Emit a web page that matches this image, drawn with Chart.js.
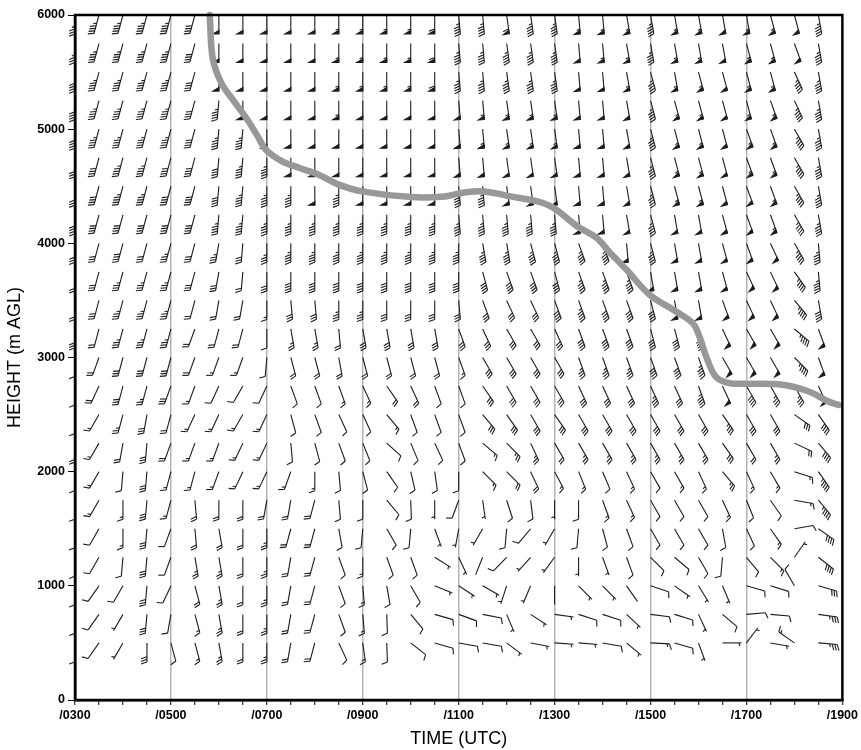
<!DOCTYPE html>
<html>
<head>
<meta charset="utf-8">
<script src="https://cdn.jsdelivr.net/npm/chart.js@4.4.1/dist/chart.umd.min.js"></script>
<style>
html,body{margin:0;padding:0;background:#fff;}
#wrap{width:861px;height:750px;position:relative;}
</style>
</head>
<body>
<div id="wrap"><canvas id="c" width="861" height="750"></canvas></div>
<script>
// ---- data ----
// barb columns (hours UTC) and levels (m AGL)
const times = [3,3.5,4,4.5,5,5.5,6,6.5,7,7.5,8,8.5,9,9.5,10,10.5,11,11.5,12,12.5,13,13.5,14,14.5,15,15.5,16,16.5,17,17.5,18,18.5];
const heights = [500,750,1000,1250,1500,1750,2000,2250,2500,2750,3000,3250,3500,3750,4000,4250,4500,4750,5000,5250,5500,5750,6000];

// wind direction (deg, from) per level, one token per time column ("-" = missing)
const windDirRows = [
"180 215 210 180 165 165 170 180 180 190 195 155 172 178 128 106 100 100 127 101 94 95 100 130 93 106 160 90 37 100 305 95",
"180 215 210 185 190 165 170 180 180 190 195 160 175 178 140 106 110 101 157 123 98 108 108 133 97 107 155 130 85 95 - 98",
"180 215 210 185 205 165 170 180 180 190 195 160 175 170 150 112 123 120 198 203 180 135 135 145 108 125 148 157 106 107 330 106",
"180 210 185 185 200 170 170 180 180 190 195 160 180 160 160 122 155 202 224 222 216 180 160 160 135 130 150 185 140 135 35 128",
"180 210 180 185 200 175 170 180 180 195 195 170 185 150 185 160 190 210 185 220 210 185 165 160 150 150 150 170 155 145 80 125",
"180 210 180 185 195 175 180 180 190 190 195 175 180 140 178 180 200 172 162 173 180 180 160 155 150 150 150 155 158 145 100 140",
"180 210 185 185 195 195 200 205 205 200 180 175 165 145 167 172 180 135 135 155 152 158 157 155 150 150 155 140 155 150 108 145",
"180 210 190 185 200 200 200 205 205 175 165 160 158 132 157 155 160 130 135 155 150 150 150 150 150 150 150 145 150 150 115 140",
"180 210 195 190 195 205 205 210 205 165 160 155 155 140 160 160 160 140 145 150 145 150 150 150 150 150 150 145 150 150 125 145",
"180 205 195 195 200 200 205 210 205 160 160 160 155 145 155 160 160 145 150 150 150 155 155 155 155 155 160 155 150 150 150 155",
"180 200 195 195 195 200 200 200 185 165 165 170 165 165 165 165 160 150 150 150 150 160 160 160 160 160 160 150 150 150 135 160",
"180 195 195 195 195 200 195 195 180 170 170 175 170 170 170 170 160 155 150 150 155 160 160 160 165 165 165 155 150 150 130 160",
"180 195 195 195 195 195 190 190 180 175 175 180 180 180 180 180 175 160 155 155 160 160 160 160 165 170 170 160 155 155 140 170",
"180 195 195 195 195 195 190 185 180 180 180 180 180 180 180 180 180 165 160 160 165 160 160 160 170 170 170 165 155 155 145 175",
"180 195 195 195 195 195 190 185 180 180 180 180 180 180 180 180 180 170 170 165 165 160 160 175 165 170 170 165 160 155 150 175",
"180 195 195 195 195 195 185 185 180 180 180 180 180 180 180 180 175 175 175 175 175 175 175 170 165 170 170 165 160 160 150 170",
"180 195 195 195 195 195 185 185 180 180 180 180 180 180 180 180 175 175 172 172 172 175 175 170 165 165 165 165 160 160 150 170",
"180 195 195 195 195 195 185 185 180 180 180 180 180 180 180 180 175 175 172 172 172 175 175 170 165 165 165 165 160 160 150 170",
"180 195 195 195 195 195 185 185 180 180 180 180 180 180 180 180 175 175 172 172 172 175 175 170 165 165 165 165 160 160 150 170",
"180 195 195 195 195 195 185 180 180 180 180 180 180 180 180 180 175 175 172 172 172 175 175 170 165 165 165 165 165 160 155 170",
"180 195 195 195 195 195 180 180 180 180 180 180 180 180 180 180 175 175 172 172 172 175 175 170 165 170 165 165 165 165 155 170",
"180 195 195 195 195 195 180 180 180 180 180 180 180 180 180 180 175 175 172 172 172 175 175 170 170 170 170 170 165 165 160 170",
"180 195 195 195 195 195 180 180 180 180 180 180 180 180 180 180 175 175 172 172 172 175 175 170 170 170 170 170 170 165 165 170"
];

// wind speed (kt) per level, one token per time column
const windSpdRows = [
"10 10 5 30 10 15 25 20 25 20 20 10 15 10 10 10 10 10 5 5 5 5 10 5 15 10 5 5 5 5 15 35",
"10 10 5 30 10 15 25 20 25 20 20 10 15 10 10 10 10 10 5 5 5 10 10 5 10 10 5 10 10 10 - 35",
"10 10 10 30 10 20 25 20 25 20 20 10 15 10 10 5 5 5 5 5 2 5 5 2 10 5 5 5 10 10 10 30",
"10 10 10 30 10 25 25 20 25 20 20 10 15 10 10 5 5 2 10 5 5 5 5 10 10 10 10 10 10 15 5 40",
"10 10 15 30 10 20 20 20 25 20 20 10 10 10 10 5 5 5 10 10 5 10 10 10 10 10 10 10 10 15 10 40",
"10 15 15 30 15 20 20 20 20 20 20 10 10 10 10 5 10 5 10 10 5 10 15 15 10 10 10 15 10 10 15 45",
"10 15 10 30 15 15 15 15 15 15 15 10 10 10 10 10 10 15 20 20 15 15 10 15 10 15 15 25 15 15 15 45",
"20 15 20 30 20 15 15 15 15 10 10 10 10 10 10 10 10 15 25 25 20 25 25 25 25 25 25 30 20 25 20 40",
"10 15 25 30 20 15 15 15 15 10 10 10 10 15 10 10 10 30 30 30 30 30 30 30 30 30 30 35 30 30 30 40",
"10 20 30 25 30 15 10 10 10 10 10 15 15 20 20 10 10 30 30 30 30 30 30 30 35 30 45 50 40 35 35 50",
"10 20 30 30 30 20 15 15 10 20 20 20 20 20 20 20 15 30 30 30 30 35 35 35 40 40 45 50 50 50 45 50",
"30 20 35 35 35 20 20 20 10 25 25 20 30 30 30 30 30 30 30 30 30 40 40 40 40 40 40 50 50 50 45 50",
"20 30 35 35 35 20 20 20 15 30 30 35 35 30 30 30 30 30 30 30 40 45 40 40 40 50 50 50 50 50 45 40",
"20 30 35 35 35 30 30 20 30 40 40 40 40 40 40 40 40 40 40 40 40 45 45 45 50 50 50 50 50 50 45 45",
"30 30 40 30 35 30 35 30 35 45 45 45 45 45 45 45 45 45 45 45 45 45 45 50 45 50 50 50 50 50 45 45",
"40 40 40 40 40 40 45 45 45 45 45 45 45 45 45 45 45 45 45 45 45 50 50 50 45 50 50 50 50 55 45 45",
"30 40 45 45 40 40 40 45 45 45 50 45 50 50 50 50 45 45 50 50 50 50 50 50 45 55 55 50 50 55 45 45",
"30 40 45 45 40 40 40 45 45 50 50 50 50 50 50 50 50 50 50 50 50 50 50 50 45 55 55 50 55 55 45 45",
"40 45 45 45 45 40 45 45 50 50 50 50 50 50 50 50 50 55 55 55 55 50 50 50 45 55 55 50 55 55 45 45",
"40 45 45 45 45 40 45 50 50 50 50 55 50 50 50 50 50 55 55 55 55 50 50 50 45 55 55 50 55 55 45 45",
"40 45 45 45 45 40 50 50 50 50 50 55 55 55 55 60 45 45 45 45 45 50 50 55 45 55 55 50 55 55 45 45",
"35 45 45 45 45 40 50 50 50 50 50 55 55 55 55 60 45 45 45 45 45 50 55 55 45 55 55 50 55 55 50 45",
"35 45 45 45 45 40 50 50 50 50 50 55 55 55 55 60 45 45 60 45 45 55 55 55 45 55 55 50 55 55 50 45"
];

// thick gray line (time UTC, height m AGL)
const lineTime = [5.81,5.87,6.05,6.29,6.57,6.81,6.98,7.32,7.67,8.08,8.50,8.98,10.01,10.71,11.12,11.53,12.08,12.64,12.98,13.47,13.88,14.16,14.50,14.98,15.53,15.88,16.02,16.16,16.36,16.64,17.05,17.75,18.30,18.71,18.92];
const lineHeight = [6000,5624,5405,5258,5098,4937,4820,4718,4662,4601,4514,4455,4405,4411,4446,4455,4411,4367,4309,4150,4046,3915,3769,3550,3403,3301,3184,3009,2833,2776,2770,2761,2702,2614,2585];

// axis tick labels
const xTickHours = [3,5,7,9,11,13,15,17,19];
const xTickLabels = ['/0300','/0500','/0700','/0900','/1100','/1300','/1500','/1700','/1900'];
const yTickValues = [0,1000,2000,3000,4000,5000,6000];
const yTickLabels = ['0','1000','2000','3000','4000','5000','6000'];

// ---- drawing ----
function parseRow(s){ return s.trim().split(/\s+/).map(v => v === '-' ? null : Number(v)); }

function drawBarb(ctx, x, y, dir, spd){
  const L = 19, F = 6.2, S = 2.6, W = 3.6, PF = 6;
  const r = dir * Math.PI / 180;
  const ux = Math.sin(r), uy = -Math.cos(r);     // toward the tail
  const nx = -uy, ny = ux;                        // feather side
  const a = 70 * Math.PI / 180;
  const fx = nx * Math.sin(a) + ux * Math.cos(a);
  const fy = ny * Math.sin(a) + uy * Math.cos(a);
  const tx = x + ux * L, ty = y + uy * L;
  ctx.beginPath();
  ctx.moveTo(x, y); ctx.lineTo(tx, ty);
  ctx.stroke();
  let s = Math.round(spd / 5) * 5;
  if (s < 5) return;
  const pen = Math.floor(s / 50); s -= pen * 50;
  const full = Math.floor(s / 10); s -= full * 10;
  const half = s >= 5;
  let p = 0;
  const at = d => [tx - ux * d, ty - uy * d];
  for (let i = 0; i < pen; i++){
    const A = at(p), B = at(p + W);
    ctx.beginPath();
    ctx.moveTo(A[0], A[1]);
    ctx.lineTo(A[0] + nx * PF, A[1] + ny * PF);
    ctx.lineTo(B[0], B[1]);
    ctx.closePath();
    ctx.fill();
    ctx.stroke();
    p += W + 1.4;
  }
  for (let i = 0; i < full; i++){
    const A = at(p);
    ctx.beginPath();
    ctx.moveTo(A[0], A[1]); ctx.lineTo(A[0] + fx * F, A[1] + fy * F);
    ctx.stroke();
    p += S;
  }
  if (half){
    if (pen === 0 && full === 0) p = S;
    const A = at(p);
    ctx.beginPath();
    ctx.moveTo(A[0], A[1]); ctx.lineTo(A[0] + fx * F * 0.55, A[1] + fy * F * 0.55);
    ctx.stroke();
  }
}

const barbPlugin = {
  id: 'barbs',
  beforeDatasetsDraw(chart){
    const {ctx, scales: {x, y}} = chart;
    ctx.save();
    ctx.strokeStyle = '#1c1c1c';
    ctx.fillStyle = '#1c1c1c';
    ctx.lineWidth = 1.1;
    ctx.lineCap = 'butt';
    ctx.lineJoin = 'miter';
    heights.forEach((h, ri) => {
      const dirs = parseRow(windDirRows[ri]);
      const spds = parseRow(windSpdRows[ri]);
      times.forEach((t, ci) => {
        if (dirs[ci] == null || spds[ci] == null) return;
        drawBarb(ctx, x.getPixelForValue(t), y.getPixelForValue(h), dirs[ci], spds[ci]);
      });
    });
    ctx.restore();
  },
  afterDatasetsDraw(chart){
    const {ctx, chartArea: a} = chart;
    ctx.save();
    ctx.strokeStyle = '#000';
    ctx.lineWidth = 2.5;
    ctx.strokeRect(a.left, a.top, a.right - a.left, a.bottom - a.top);
    ctx.restore();
  }
};

const tickFont = {family: "'Liberation Sans', Arial, sans-serif", size: 12.5, weight: 'bold'};
const titleFont = {family: "'Liberation Sans', Arial, sans-serif", size: 18};

new Chart(document.getElementById('c').getContext('2d'), {
  type: 'scatter',
  data: {
    datasets: [{
      type: 'line',
      data: lineTime.map((t, i) => ({x: t, y: lineHeight[i]})),
      borderColor: '#989898',
      borderWidth: 6.5,
      pointRadius: 0,
      tension: 0.35,
      borderCapStyle: 'round',
      borderJoinStyle: 'round',
      fill: false,
      clip: false
    }]
  },
  options: {
    responsive: false,
    animation: false,
    devicePixelRatio: 1,
    layout: {padding: {left: 0, right: 13, top: 15, bottom: 0}},
    plugins: {legend: {display: false}, tooltip: {enabled: false}},
    scales: {
      x: {
        type: 'linear', min: 3, max: 19,
        afterFit: s => { s.height = 50; },
        ticks: {
          stepSize: 0.5, autoSkip: false, maxRotation: 0, color: '#000', font: tickFont, padding: 3,
          callback: v => { const i = xTickHours.indexOf(v); return i >= 0 ? xTickLabels[i] : ''; }
        },
        grid: {
          color: c => {
            const v = c.tick && c.tick.value;
            return (v > 3 && v < 19 && Number.isInteger(v) && v % 2 === 1) ? '#b4b4b4' : 'rgba(0,0,0,0)';
          },
          lineWidth: 1.5, drawTicks: true, tickLength: 5, tickColor: '#000', tickWidth: 1
        },
        border: {color: '#000', width: 2.5},
        title: {display: true, text: 'TIME (UTC)', color: '#000', font: titleFont, padding: {top: 0, bottom: 0}}
      },
      y: {
        type: 'linear', min: 0, max: 6000,
        afterFit: s => { s.width = 75; },
        afterBuildTicks: s => { s.ticks = yTickValues.map(v => ({value: v})); },
        ticks: {
          color: '#000', font: tickFont, padding: 3,
          callback: v => { const i = yTickValues.indexOf(v); return i >= 0 ? yTickLabels[i] : ''; }
        },
        grid: {drawOnChartArea: false, drawTicks: true, tickLength: 7, tickColor: '#000', tickWidth: 1},
        border: {color: '#000', width: 2.5},
        title: {display: true, text: 'HEIGHT (m AGL)', color: '#000', font: titleFont, padding: {top: 4, bottom: 0}}
      }
    }
  },
  plugins: [barbPlugin]
});
</script>
</body>
</html>
